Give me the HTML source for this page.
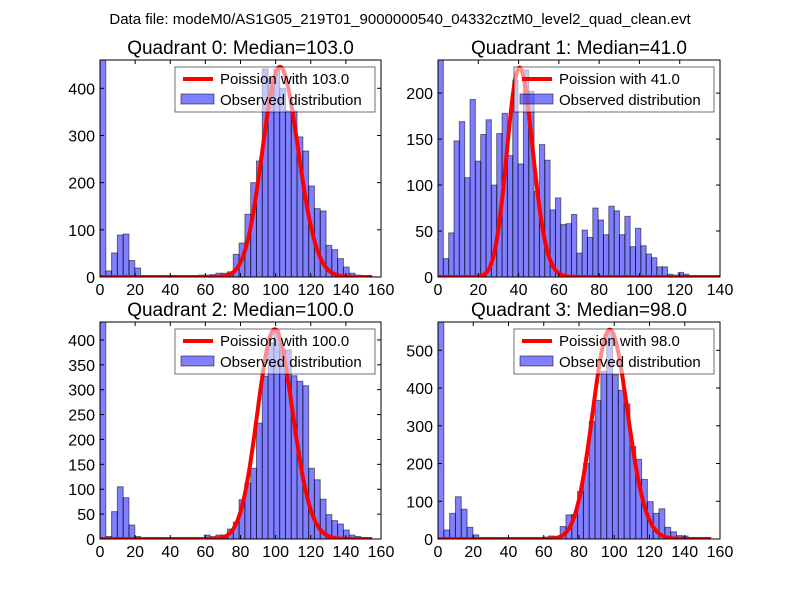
<!DOCTYPE html>
<html><head><meta charset="utf-8"><style>
body{margin:0;background:#fff;}
svg{display:block;font-family:"Liberation Sans","DejaVu Sans",sans-serif;}
</style></head><body>
<svg id="fig" width="800" height="600">
<rect width="800" height="600" fill="#fff"/>
<text x="400" y="24" font-size="15" text-anchor="middle">Data file: modeM0/AS1G05_219T01_9000000540_04332cztM0_level2_quad_clean.evt</text>
</svg>
<script>
const titles = ["Quadrant 0: Median=103.0","Quadrant 1: Median=41.0","Quadrant 2: Median=100.0","Quadrant 3: Median=98.0"];
const medians = [103.0, 41.0, 100.0, 98.0];
const curvePeaks = [445, 227, 421, 554];
const binWidths = [3.3, 2.65, 3.3, 3.3];
const counts0 = [800,13,51,89,91,35,19,3,0,0,0,0,0,0,0,0,0,4,4,5,8,8,11,48,72,133,200,246,441,420,440,400,352,352,297,267,193,145,140,67,58,39,21,8,4,2,1];
const counts1 = [600,20,48,148,169,108,193,126,155,171,100,156,178,132,214,123,225,202,93,144,127,73,86,57,58,68,26,51,43,75,62,46,77,72,46,66,33,53,34,25,21,11,11,3,2,5,3,1,1];
const counts2 = [600,5,55,105,83,28,5,0,0,0,0,0,0,0,0,0,3,3,8,5,8,8,20,34,79,112,142,233,327,394,420,380,380,328,317,308,142,119,80,49,37,30,18,8,5];
const counts3 = [800,24,68,112,79,31,11,0,0,0,0,0,0,0,0,0,0,3,5,8,6,33,64,65,126,200,311,367,444,550,435,394,358,245,211,158,99,68,80,31,19,9,8,4,2];
const allCounts = [counts0, counts1, counts2, counts3];
const xMax = [160, 140, 160, 160];
const yMax = [460, 236, 436, 575];
const yTickStep = [100, 50, 50, 100];
const xTickStep = [20, 20, 20, 20];

const boxes = [[100,60,381,277],[438,60,720,277],[100,322,381,539],[438,322,720,539]];
const svg = document.getElementById('fig');
const NS = 'http://www.w3.org/2000/svg';
function mk(tag, attrs, parent){const e=document.createElementNS(NS,tag);for(const k in attrs)e.setAttribute(k,attrs[k]);(parent||svg).appendChild(e);return e;}
function lfact(k){ if(k<1) return 0; return k*Math.log(k)-k+0.5*Math.log(2*Math.PI*k)+1/(12*k); }

for(let q=0;q<4;q++){
  const [x0,y0,x1,y1]=boxes[q];
  const sx=v=>x0+(x1-x0)*v/xMax[q];
  const sy=v=>y1-(y1-y0)*Math.min(v,yMax[q])/yMax[q];
  const g=mk('g',{});
  
  
  const clipId='c'+q;
  const cp=mk('clipPath',{id:clipId},g); mk('rect',{x:x0,y:y0,width:x1-x0,height:y1-y0},cp);
  const plot=mk('g',{'clip-path':'url(#'+clipId+')'},g);
  // bars
  const c=allCounts[q],w=binWidths[q];
  c.forEach((v,i)=>{
    const r=mk('rect',{x:sx(i*w),y:sy(v),width:sx(w)-sx(0),height:y1-sy(v),fill:'rgba(0,0,255,0.5)',stroke:'rgba(0,0,0,0.5)','stroke-width':1},plot);
    
    
  });
  // curve
  const mu=medians[q]; let pts=[]; const lpeak=mu*Math.log(mu)-mu-lfact(mu);
  for(let k=0;k<=155;k+=0.5){const lp=k*Math.log(mu)-mu-lfact(k);pts.push(sx(k).toFixed(1)+','+sy(curvePeaks[q]*Math.exp(lp-lpeak)).toFixed(1));}
  const curve=mk('polyline',{points:pts.join(' '),fill:'none',stroke:'#ff0000','stroke-width':4,'stroke-linejoin':'round'},plot);
  
  
  // frame
  mk('rect',{x:x0,y:y0,width:x1-x0,height:y1-y0,fill:'none',stroke:'#000','stroke-width':1},g);
  // ticks
  for(let t=0;t<=xMax[q];t+=xTickStep[q]){
    const x=sx(t);
    mk('line',{x1:x,y1:y1,x2:x,y2:y1-4,stroke:'#000'},g);
    mk('line',{x1:x,y1:y0,x2:x,y2:y0+4,stroke:'#000'},g);
    const tl=mk('text',{x:x,y:y1+18,'font-size':16,'text-anchor':'middle'},g);tl.textContent=t;
    
    
  }
  for(let t=0;t<=yMax[q];t+=yTickStep[q]){
    const y=sy(t);
    mk('line',{x1:x0,y1:y,x2:x0+4,y2:y,stroke:'#000'},g);
    mk('line',{x1:x1,y1:y,x2:x1-4,y2:y,stroke:'#000'},g);
    const tl=mk('text',{x:x0-5,y:y+6,'font-size':16,'text-anchor':'end'},g);tl.textContent=t;
    
    
  }
  const tt=mk('text',{x:(x0+x1)/2,y:y0-6,'font-size':19,'text-anchor':'middle'},g);tt.textContent=titles[q];
  
  
  // legend
  const lg=mk('g',{},g);
  
  
  const lx=x1-206, ly=y0+7;
  mk('rect',{x:lx,y:ly,width:200,height:45,fill:'rgba(255,255,255,0.55)',stroke:'#000','stroke-width':0.8,'stroke-opacity':0.7},lg);
  mk('line',{x1:lx+8,y1:ly+12,x2:lx+38,y2:ly+12,stroke:'#ff0000','stroke-width':4},lg);
  const t1=mk('text',{x:lx+45,y:ly+17,'font-size':15},lg);t1.textContent='Poission with '+medians[q].toFixed(1);
  mk('rect',{x:lx+6,y:ly+27,width:33,height:10,fill:'rgba(0,0,255,0.5)',stroke:'rgba(0,0,0,0.5)'},lg);
  const t2=mk('text',{x:lx+45,y:ly+38,'font-size':15},lg);t2.textContent='Observed distribution';
}
</script>
</body></html>
